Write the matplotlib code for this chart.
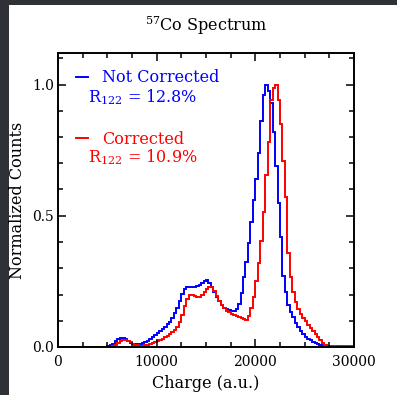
import numpy as np
import matplotlib.pyplot as plt
from matplotlib.lines import Line2D
from matplotlib.patches import Rectangle

plt.rcParams['font.family'] = 'serif'
plt.rcParams['font.serif'] = ['DejaVu Serif']
plt.rcParams['mathtext.fontset'] = 'dejavuserif'

# histogram bins (charge, a.u.)
bin_edges = np.arange(0, 30001, 250)

# normalized counts per bin
not_corrected = [
    0.0, 0.0, 0.0, 0.0, 0.0, 0.0, 0.0, 0.0, 0.0, 0.0,
    0.0, 0.0, 0.0, 0.0, 0.0, 0.0, 0.0, 0.0, 0.0, 0.0,
    0.002, 0.006, 0.013, 0.022, 0.029, 0.033, 0.033, 0.029, 0.022, 0.016,
    0.012, 0.010, 0.010, 0.012, 0.015, 0.019, 0.024, 0.030, 0.037, 0.044,
    0.052, 0.060, 0.068, 0.077, 0.086, 0.096, 0.110, 0.128, 0.148, 0.175,
    0.202, 0.220, 0.228, 0.230, 0.230, 0.229, 0.232, 0.238, 0.245, 0.251,
    0.254, 0.245, 0.228, 0.208, 0.190, 0.174, 0.160, 0.150, 0.144, 0.140,
    0.137, 0.137, 0.145, 0.162, 0.205, 0.265, 0.325, 0.395, 0.475, 0.560,
    0.640, 0.740, 0.860, 0.960, 1.000, 0.975, 0.930, 0.820, 0.690, 0.550,
    0.420, 0.270, 0.210, 0.160, 0.135, 0.115, 0.090, 0.075, 0.062, 0.050,
    0.040, 0.032, 0.025, 0.019, 0.014, 0.010, 0.007, 0.004, 0.002, 0.002,
    0.001, 0.001, 0.001, 0.001, 0.002, 0.002, 0.001, 0.001, 0.0, 0.0,
]
corrected = [
    0.0, 0.0, 0.0, 0.0, 0.0, 0.0, 0.0, 0.0, 0.0, 0.0,
    0.0, 0.0, 0.0, 0.0, 0.0, 0.0, 0.0, 0.0, 0.0, 0.0,
    0.0, 0.001, 0.004, 0.009, 0.015, 0.021, 0.026, 0.027, 0.024, 0.019,
    0.013, 0.009, 0.006, 0.005, 0.005, 0.006, 0.008, 0.011, 0.014, 0.018,
    0.022, 0.027, 0.032, 0.037, 0.043, 0.050, 0.058, 0.066, 0.078, 0.095,
    0.122, 0.155, 0.182, 0.198, 0.200, 0.194, 0.190, 0.190, 0.198, 0.208,
    0.220, 0.228, 0.228, 0.215, 0.195, 0.176, 0.160, 0.147, 0.138, 0.132,
    0.127, 0.123, 0.120, 0.116, 0.111, 0.106, 0.104, 0.118, 0.150, 0.190,
    0.250, 0.320, 0.405, 0.515, 0.655, 0.780, 0.940, 0.985, 1.000, 0.940,
    0.850, 0.710, 0.570, 0.360, 0.265, 0.210, 0.170, 0.145, 0.125, 0.112,
    0.098, 0.085, 0.073, 0.062, 0.050, 0.038, 0.027, 0.016, 0.009, 0.005,
    0.003, 0.003, 0.003, 0.003, 0.003, 0.003, 0.003, 0.003, 0.003, 0.003,
]

labels = ['Not Corrected', 'Corrected']
resolutions = [12.8, 10.9]
colors = ['blue', 'red']

fig = plt.figure(figsize=(3.97, 3.95), dpi=100)
fig.patch.set_facecolor('#2e3236')
fig.patches.append(Rectangle((9 / 397, 0), 1, 1 - 5 / 395, transform=fig.transFigure,
                             facecolor='white', edgecolor='none', zorder=-1))

ax = fig.add_axes([58 / 397, 48 / 395, 296 / 397, 294 / 395])

for vals, c in zip([not_corrected, corrected], colors):
    ax.stairs(vals, bin_edges, color=c, linewidth=1.4)

ax.set_xlim(0, 30000)
ax.set_ylim(0, 1.12)
ax.set_xticks([0, 10000, 20000, 30000])
ax.set_xticks(np.arange(0, 30001, 2500), minor=True)
ax.set_yticks([0.0, 0.5, 1.0])
ax.set_yticks(np.arange(0, 1.11, 0.1), minor=True)
ax.tick_params(which='both', direction='in', top=True, right=True, labelsize=10)
ax.tick_params(which='major', length=6, width=1.1)
ax.tick_params(which='minor', length=3.5, width=1.1)
ax.tick_params(axis='x', pad=6)
ax.tick_params(axis='y', pad=3)
for s in ax.spines.values():
    s.set_linewidth(1.4)

ax.set_xlabel('Charge (a.u.)', fontsize=11.5, labelpad=4)
ax.set_ylabel('Normalized Counts', fontsize=11.5, labelpad=4)
ax.set_title('$^{57}$Co Spectrum', fontsize=11.5, pad=16)

handles = [Line2D([], [], color=c, linewidth=1.4) for c in colors]
ax.legend(handles, labels, loc='upper left', bbox_to_anchor=(0.06, 0.945),
          frameon=False, fontsize=11.5, labelcolor='linecolor',
          handlelength=0.75, handletextpad=0.9, labelspacing=2.8,
          borderpad=0, borderaxespad=0)
for r, c, y in zip(resolutions, colors, [0.85, 0.646]):
    ax.text(0.1, y, '$\\mathregular{R_{122}}$ = %.1f%%' % r, color=c,
            fontsize=11.5, transform=ax.transAxes, va='center')

fig.savefig('out.png', dpi=100, facecolor=fig.get_facecolor())
